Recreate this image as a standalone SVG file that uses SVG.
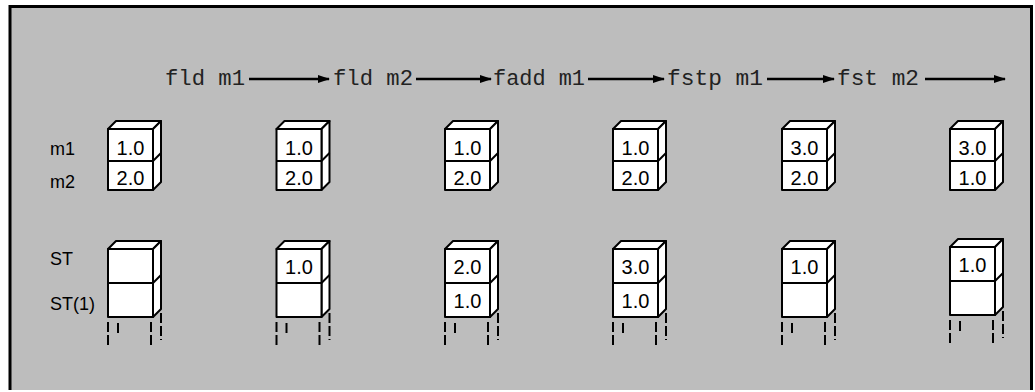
<svg xmlns="http://www.w3.org/2000/svg" xmlns:xlink="http://www.w3.org/1999/xlink" width="1035" height="392" viewBox="0 0 1035 392">
<style>
.face{fill:#ffffff;stroke:#000;stroke-width:2;stroke-linejoin:round}
.ln{stroke:#000;stroke-width:2}
.leg{stroke:#000;stroke-width:2;stroke-dasharray:10 3}
.val{font-family:"Liberation Sans",Arial,sans-serif;font-size:20px;fill:#000;text-anchor:middle}
.lbl{font-family:"Liberation Sans",Arial,sans-serif;font-size:18px;fill:#000}
.ins{font-family:"Liberation Mono","Courier New",monospace;font-size:22px;fill:#222}
.arr{stroke:#000;stroke-width:2.5;fill:none}
</style>
<defs>
<marker id="ah" viewBox="0 0 12 8" refX="11" refY="4" markerWidth="12" markerHeight="8" markerUnits="userSpaceOnUse" orient="auto">
<path d="M0,0 L12,4 L0,8 Z" fill="#000"/>
</marker>
<g id="memShape">
<path class="face" d="M0,0 L8,-8 L53,-8 L45,0 Z"/>
<path class="face" d="M45,0 L53,-8 L53,53 L45,61 Z"/>
<rect class="face" x="0" y="0" width="45" height="61"/>
<line class="ln" x1="0" y1="32" x2="45" y2="32"/>
<line class="ln" x1="45" y1="32" x2="53" y2="24"/>
</g>
<g id="stShape">
<path class="face" d="M0,0 L8,-8 L53,-8 L45,0 Z"/>
<path class="face" d="M45,0 L53,-8 L53,60 L45,68 Z"/>
<rect class="face" x="0" y="0" width="45" height="68"/>
<line class="ln" x1="0" y1="34" x2="45" y2="34"/>
<line class="ln" x1="45" y1="34" x2="53" y2="26"/>
<line class="leg" x1="0" y1="73" x2="0" y2="97"/>
<line class="leg" x1="10" y1="74" x2="10" y2="86"/>
<line class="leg" x1="43" y1="73" x2="43" y2="97"/>
<line class="leg" x1="53" y1="64" x2="53" y2="91"/>
</g>
</defs>
<rect x="0" y="0" width="1035" height="392" fill="#ffffff"/>
<rect x="10" y="6.5" width="1021.5" height="383.5" fill="#bdbdbd"/>
<path d="M10,390 L10,6.5 L1031.5,6.5 L1031.5,390" fill="none" stroke="#000" stroke-width="3"/>
<g id="labels">
<text class="lbl" x="50" y="155">m1</text>
<text class="lbl" x="50" y="188">m2</text>
<text class="lbl" x="50" y="265">ST</text>
<text class="lbl" x="50" y="310">ST(1)</text>
</g>
<g id="instructions">
<text class="ins" x="165" y="85" textLength="80" lengthAdjust="spacingAndGlyphs">fld m1</text>
<text class="ins" x="333" y="85" textLength="80" lengthAdjust="spacingAndGlyphs">fld m2</text>
<text class="ins" x="493" y="85" textLength="92" lengthAdjust="spacingAndGlyphs">fadd m1</text>
<text class="ins" x="667" y="85" textLength="96" lengthAdjust="spacingAndGlyphs">fstp m1</text>
<text class="ins" x="837" y="85" textLength="82" lengthAdjust="spacingAndGlyphs">fst m2</text>
</g>
<g id="connectors">
<line class="arr" x1="249" y1="79" x2="329" y2="79" marker-end="url(#ah)"/>
<line class="arr" x1="416" y1="79" x2="491" y2="79" marker-end="url(#ah)"/>
<line class="arr" x1="588" y1="79" x2="664" y2="79" marker-end="url(#ah)"/>
<line class="arr" x1="767" y1="79" x2="834" y2="79" marker-end="url(#ah)"/>
<line class="arr" x1="925" y1="79" x2="1005" y2="79" marker-end="url(#ah)"/>
</g>
<g id="state1">
<g transform="translate(108,129)"><use xlink:href="#memShape"/><text class="val" x="22.5" y="26">1.0</text><text class="val" x="22.5" y="56">2.0</text></g>
<g transform="translate(108,249)"><use xlink:href="#stShape"/></g>
</g>
<g id="state2">
<g transform="translate(276.5,129)"><use xlink:href="#memShape"/><text class="val" x="22.5" y="26">1.0</text><text class="val" x="22.5" y="56">2.0</text></g>
<g transform="translate(276.5,249)"><use xlink:href="#stShape"/><text class="val" x="22.5" y="25">1.0</text></g>
</g>
<g id="state3">
<g transform="translate(445,129)"><use xlink:href="#memShape"/><text class="val" x="22.5" y="26">1.0</text><text class="val" x="22.5" y="56">2.0</text></g>
<g transform="translate(445,249)"><use xlink:href="#stShape"/><text class="val" x="22.5" y="25">2.0</text><text class="val" x="22.5" y="59">1.0</text></g>
</g>
<g id="state4">
<g transform="translate(613,129)"><use xlink:href="#memShape"/><text class="val" x="22.5" y="26">1.0</text><text class="val" x="22.5" y="56">2.0</text></g>
<g transform="translate(613,249)"><use xlink:href="#stShape"/><text class="val" x="22.5" y="25">3.0</text><text class="val" x="22.5" y="59">1.0</text></g>
</g>
<g id="state5">
<g transform="translate(782,129)"><use xlink:href="#memShape"/><text class="val" x="22.5" y="26">3.0</text><text class="val" x="22.5" y="56">2.0</text></g>
<g transform="translate(782,249)"><use xlink:href="#stShape"/><text class="val" x="22.5" y="25">1.0</text></g>
</g>
<g id="state6">
<g transform="translate(950,129)"><use xlink:href="#memShape"/><text class="val" x="22.5" y="26">3.0</text><text class="val" x="22.5" y="56">1.0</text></g>
<g transform="translate(950,247)"><use xlink:href="#stShape"/><text class="val" x="22.5" y="25">1.0</text></g>
</g>
</svg>
